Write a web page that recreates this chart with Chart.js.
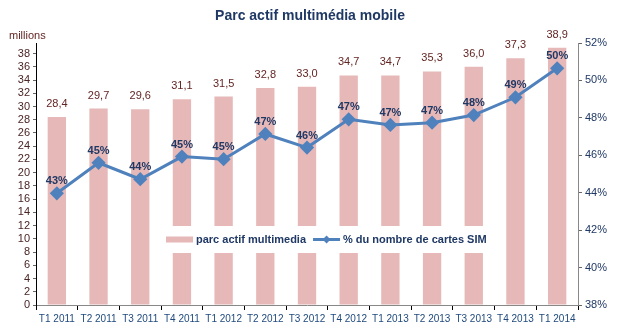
<!DOCTYPE html>
<html><head><meta charset="utf-8">
<script src="https://cdn.jsdelivr.net/npm/chart.js@4/dist/chart.umd.min.js"></script>
<style>html,body{margin:0;padding:0;background:#fff}#w{width:620px;height:329px}</style>
</head><body><div id="w"><canvas id="c"></canvas></div>
<script>
const categories = ["T1 2011","T2 2011","T3 2011","T4 2011","T1 2012","T2 2012","T3 2012","T4 2012","T1 2013","T2 2013","T3 2013","T4 2013","T1 2014"];
const parcActif = [28.4,29.7,29.6,31.1,31.5,32.8,33.0,34.7,34.7,35.3,36.0,37.3,38.9];
const pctSim = [43.97,45.6,44.72,45.93,45.79,47.14,46.41,47.92,47.62,47.74,48.15,49.1,50.65];
const leftTicks = [0,2,4,6,8,10,12,14,16,18,20,22,24,26,28,30,32,34,36,38];
const rightTicks = [38,40,42,44,46,48,50,52];

const FONT = "'Liberation Sans', Arial, sans-serif";
const BAR = '#E6B9B8', LINE = '#4F81BD';

const labelsPlugin = {
  id: 'labelsPlugin',
  afterDatasetsDraw(chart) {
    const ctx = chart.ctx;
    ctx.save();
    const mb = chart.getDatasetMeta(0);
    ctx.font = '11px ' + FONT;
    ctx.fillStyle = '#632523';
    ctx.textAlign = 'center'; ctx.textBaseline = 'middle';
    mb.data.forEach((el, i) => {
      ctx.fillText(parcActif[i].toFixed(1).replace('.', ','), el.x, el.y - 13);
    });
    const ml = chart.getDatasetMeta(1);
    ctx.font = 'bold 11px ' + FONT;
    ctx.fillStyle = '#1F3864';
    ml.data.forEach((el, i) => {
      ctx.fillText(Math.floor(pctSim[i]) + '%', el.x, el.y - 12);
    });
    const lx = 160, ly = 226, lw = 335, lh = 27;
    ctx.fillStyle = '#fff';
    ctx.fillRect(lx, ly, lw, lh);
    const cy = ly + lh / 2;
    ctx.fillStyle = BAR;
    ctx.fillRect(166, cy - 3, 27, 6);
    ctx.font = 'bold 11px ' + FONT;
    ctx.fillStyle = '#1F3864';
    ctx.textAlign = 'left';
    ctx.fillText(chart.data.datasets[0].label, 196, cy);
    const t1w = ctx.measureText(chart.data.datasets[0].label).width;
    const sx = 196 + t1w + 7;
    ctx.strokeStyle = LINE; ctx.lineWidth = 3;
    ctx.beginPath(); ctx.moveTo(sx, cy); ctx.lineTo(sx + 27, cy); ctx.stroke();
    ctx.fillStyle = LINE;
    ctx.beginPath();
    const dx = sx + 13.5;
    ctx.moveTo(dx, cy - 4); ctx.lineTo(dx + 4, cy); ctx.lineTo(dx, cy + 4); ctx.lineTo(dx - 4, cy); ctx.closePath(); ctx.fill();
    ctx.fillStyle = '#1F3864';
    ctx.fillText(chart.data.datasets[1].label, sx + 30, cy);
    ctx.font = '11px ' + FONT;
    ctx.fillStyle = '#632523';
    ctx.fillText('millions', 9, 36);
    ctx.restore();
  }
};

new Chart(document.getElementById('c'), {
  data: {
    labels: categories,
    datasets: [
      { type: 'bar', label: 'parc actif multimedia', data: parcActif, backgroundColor: BAR,
        barPercentage: 0.44, categoryPercentage: 1, yAxisID: 'y', order: 1 },
      { type: 'line', label: '% du nombre de cartes SIM', data: pctSim, borderColor: LINE, backgroundColor: LINE,
        borderWidth: 3, pointStyle: 'rectRot', pointRadius: 5, pointHoverRadius: 5, tension: 0, yAxisID: 'y1', order: 0 }
    ]
  },
  options: {
    responsive: true, maintainAspectRatio: false, animation: false,
    devicePixelRatio: 1,
    layout: { padding: 0 },
    plugins: {
      legend: { display: false },
      tooltip: { enabled: false },
      title: { display: true, text: 'Parc actif multimédia mobile', color: '#1F3864',
        font: { family: FONT, size: 14, weight: 'bold' }, padding: { top: 8, bottom: 18.2 } }
    },
    scales: {
      x: {
        offset: true,
        grid: { drawOnChartArea: false, drawTicks: true, tickLength: 5, tickColor: '#000', offset: true },
        border: { color: '#888', width: 1 },
        ticks: { color: '#1F497D', font: { family: FONT, size: 10 }, maxRotation: 0, autoSkip: false, padding: 3 },
        afterFit(s) { s.height = 24; }
      },
      y: {
        position: 'left', min: 0, max: 39.6,
        afterBuildTicks(s) { s.ticks = leftTicks.map(v => ({ value: v })); },
        grid: { drawOnChartArea: false, drawTicks: true, tickLength: 3, tickColor: '#666' },
        border: { color: '#000', width: 1 },
        ticks: { color: '#4A2525', font: { family: FONT, size: 11 }, padding: 3, autoSkip: false },
        afterFit(s) { s.width = 36; }
      },
      y1: {
        position: 'right', min: 38, max: 52,
        afterBuildTicks(s) { s.ticks = rightTicks.map(v => ({ value: v })); },
        grid: { drawOnChartArea: false, drawTicks: true, tickLength: 4, tickColor: '#666' },
        border: { color: '#888', width: 1 },
        ticks: { color: '#1F3864', font: { family: FONT, size: 11 }, padding: 3, autoSkip: false, callback: v => v + '%' },
        afterFit(s) { s.width = 42; }
      }
    }
  },
  plugins: [labelsPlugin]
});
</script>
</body></html>
